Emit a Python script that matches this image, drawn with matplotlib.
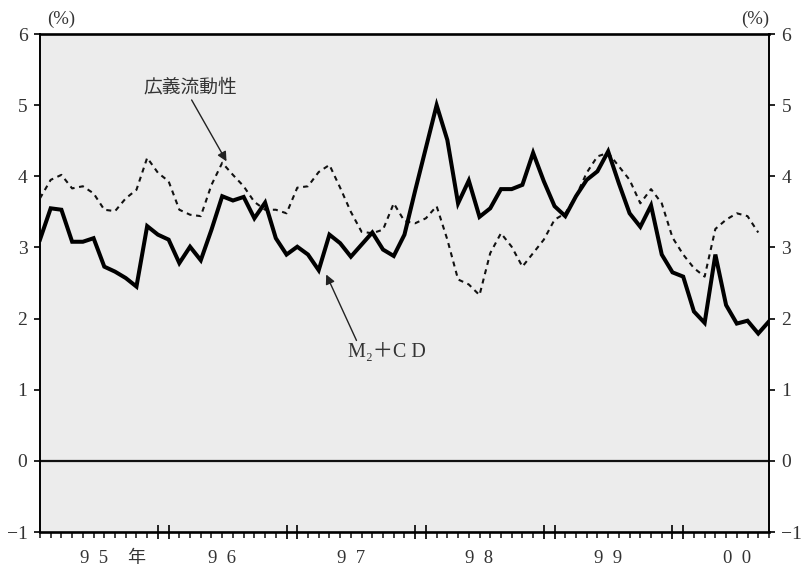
import numpy as np
import matplotlib
matplotlib.use("Agg")
import matplotlib.pyplot as plt
import matplotlib.transforms as mtransforms

# ============================================================================
# data (monthly, 95/1 .. 00/9, % change y/y)
# ============================================================================

m2cd = [3.11, 3.55, 3.53, 3.08, 3.08, 3.13, 2.73, 2.66, 2.57, 2.45, 3.30, 3.18,
        3.11, 2.78, 3.01, 2.82, 3.25, 3.72, 3.66, 3.71, 3.41, 3.63, 3.13, 2.90,
        3.01, 2.90, 2.68, 3.18, 3.06, 2.87, 3.04, 3.21, 2.97, 2.88, 3.18, 3.80,
        4.40, 5.00, 4.51, 3.62, 3.94, 3.43, 3.55, 3.82, 3.82, 3.88, 4.33, 3.93,
        3.58, 3.44, 3.72, 3.95, 4.07, 4.35, 3.90, 3.48, 3.29, 3.59, 2.90, 2.65,
        2.59, 2.10, 1.94, 2.90, 2.19, 1.93, 1.97, 1.79, 1.96]

kogi = [3.69, 3.95, 4.02, 3.83, 3.86, 3.76, 3.53, 3.51, 3.69, 3.81, 4.26, 4.05,
        3.93, 3.53, 3.46, 3.44, 3.88, 4.19, 4.02, 3.86, 3.64, 3.53, 3.53, 3.48,
        3.84, 3.86, 4.06, 4.16, 3.84, 3.50, 3.22, 3.20, 3.25, 3.62, 3.37, 3.34,
        3.41, 3.58, 3.11, 2.55, 2.48, 2.33, 2.92, 3.20, 3.01, 2.73, 2.92, 3.11,
        3.39, 3.48, 3.72, 4.05, 4.28, 4.33, 4.14, 3.95, 3.62, 3.82, 3.62, 3.14,
        2.90, 2.71, 2.59, 3.26, 3.39, 3.48, 3.44, 3.21]

year_labels = ["9\u20025", "9\u20026", "9\u20027", "9\u20028", "9\u20029", "0\u20020"]
year_boundaries = [11, 12, 23, 24, 35, 36, 47, 48, 59, 60]
yticks = [-1, 0, 1, 2, 3, 4, 5, 6]
ytick_labels = ["\u22121", "0", "1", "2", "3", "4", "5", "6"]

# ============================================================================
# figure
# ============================================================================

serif = ["Liberation Serif", "Noto Sans CJK JP"]
plt.rcParams["font.family"] = serif
txt_col = "#333333"

fig = plt.figure(figsize=(8.01, 5.67), dpi=100)
ax = fig.add_axes([0.0499, 0.0617, 0.9101, 0.8783])
ax.set_facecolor("#ececec")

x_m2 = np.arange(len(m2cd))
x_kg = np.arange(len(kogi))

ax.axhline(0, color="#111111", lw=1.6, zorder=2)
ax.plot(x_kg, kogi, color="#111111", lw=1.5, linestyle=(0, (2.4, 2.2)), zorder=3)
ax.plot(x_m2, m2cd, color="#000000", lw=2.9, solid_joinstyle="miter", zorder=4)

ax.set_xlim(0, len(m2cd) - 1)
ax.set_ylim(-1, 6)

# spines
for side in ["left", "right"]:
    ax.spines[side].set_linewidth(1.4)
for side in ["top", "bottom"]:
    ax.spines[side].set_linewidth(1.9)

# x ticks: every month (minor), long double ticks at the year change
ax.set_xticks(x_m2, minor=True)
ax.set_xticks(year_boundaries)
ax.set_xticklabels([])
ax.tick_params(axis="x", which="minor", direction="out", length=4.5, width=1.2,
               color="#222222")
ax.tick_params(axis="x", which="major", direction="inout", length=10, width=1.4,
               color="#222222")

# y ticks both sides
ax.set_yticks(yticks)
ax.set_yticklabels(ytick_labels)
ax.tick_params(axis="y", which="major", direction="out", length=4, width=1.2,
               labelsize=14, labelcolor=txt_col, left=True, right=True,
               labelleft=True, labelright=True, pad=5)

# year labels under the axis
trans = mtransforms.blended_transform_factory(ax.transData, ax.transAxes)
for i, lab in enumerate(year_labels):
    ax.text(5.0 + 12 * i, -0.053, lab, transform=trans, ha="center", va="center",
            fontsize=13.5, color=txt_col)
ax.text(9.0, -0.053, "年", transform=trans, ha="center", va="center",
        fontsize=13, color=txt_col, family=["Noto Sans CJK JP", "DejaVu Sans"])

# unit labels
fig.text(61 / 801, 1 - 19 / 567, "(%)", ha="center", va="center", fontsize=13.5,
         color=txt_col)
fig.text(755 / 801, 1 - 19 / 567, "(%)", ha="center", va="center", fontsize=13.5,
         color=txt_col)

# annotations
ax.annotate("広義流動性", xy=(17.4, 4.21), xytext=(14.0, 5.26),
            ha="center", va="center", fontsize=13.5, color=txt_col,
            family=["Noto Sans CJK JP", "DejaVu Sans"],
            arrowprops=dict(arrowstyle="-|>", color="#222222", lw=1.0,
                            mutation_scale=14, shrinkA=0, shrinkB=0,
                            relpos=(0.5, 0.0)))
ax.annotate("M\u2082\uff0bC D", xy=(26.7, 2.62), xytext=(28.7, 1.52),
            ha="left", va="center", fontsize=14.5, color=txt_col,
            arrowprops=dict(arrowstyle="-|>", color="#222222", lw=1.0,
                            mutation_scale=14, shrinkA=0, shrinkB=0,
                            relpos=(0.13, 1.0)))

plt.savefig("out.png", dpi=100, facecolor="white")
